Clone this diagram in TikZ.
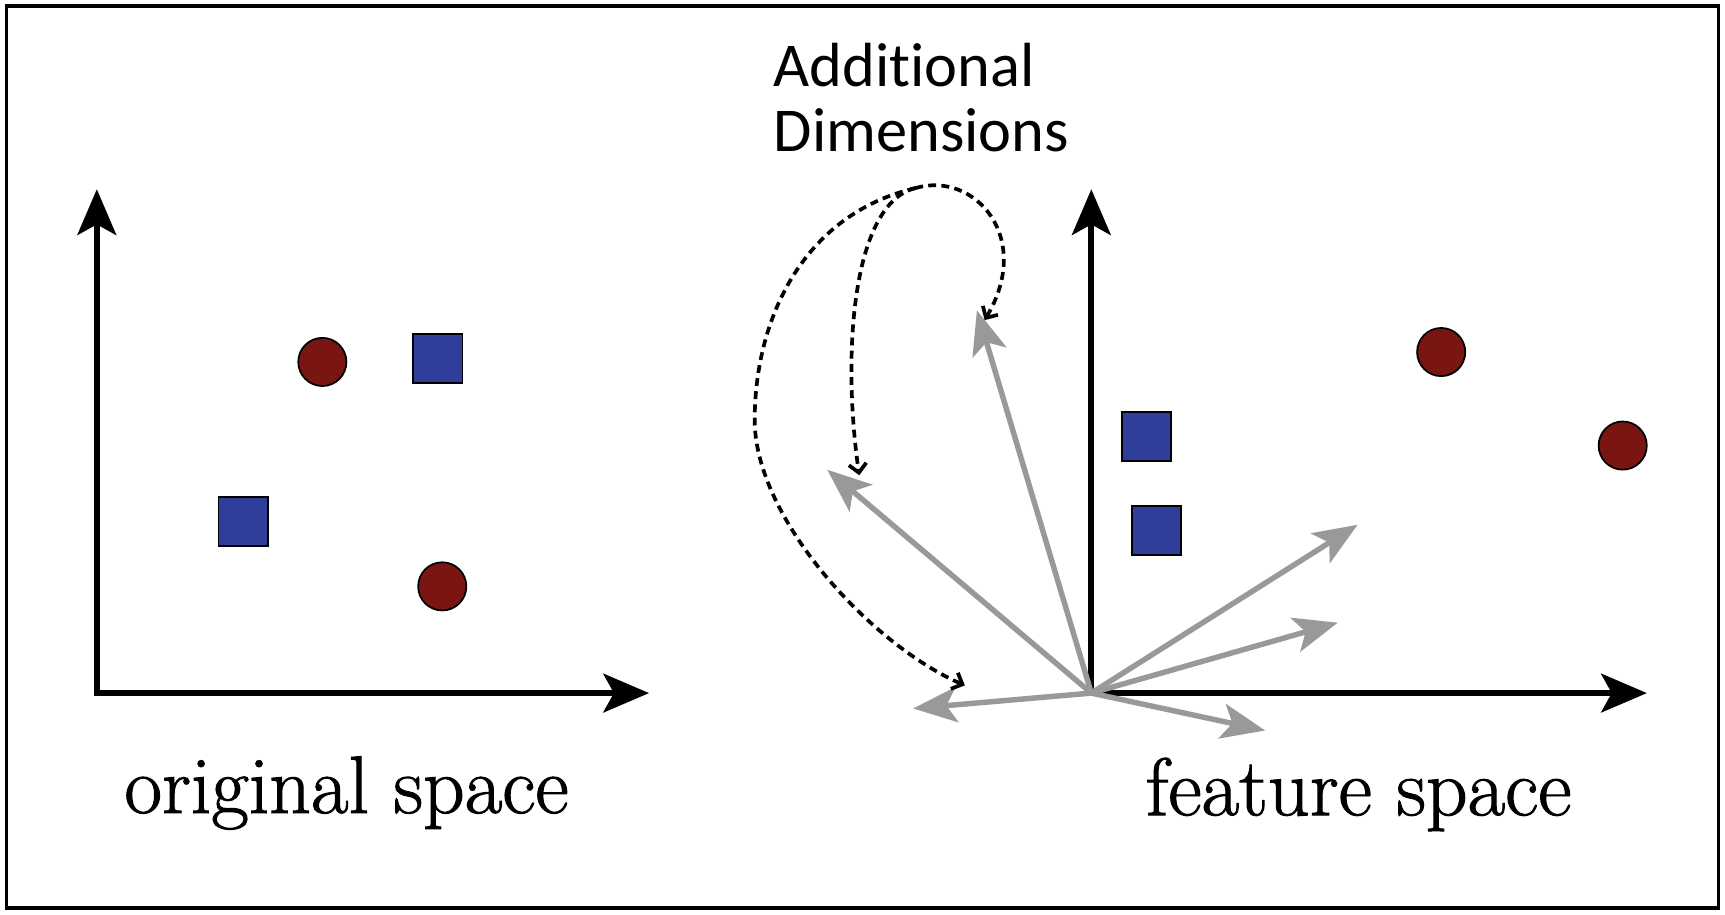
\documentclass[tikz,border=0pt]{standalone}
\usepackage{fontspec}
\newfontfamily\carlito[Ligatures=NoCommon]{Carlito}
\newfontfamily\capfont[FakeBold=1.2]{Latin Modern Roman}
\usetikzlibrary{arrows.meta}
\definecolor{dotred}{RGB}{122,22,18}
\definecolor{dotblue}{RGB}{46,62,154}
\definecolor{vecgray}{RGB}{153,153,153}
\begin{document}
\begin{tikzpicture}[x=0.022cm,y=-0.022cm,
 axis/.style={line width=3.4pt, black, line join=miter, {Stealth[length=26pt,width=22pt,inset=6pt]}-{Stealth[length=26pt,width=22pt,inset=6pt]}},
 vec/.style={line width=3.1pt, vecgray, -{Stealth[length=25pt,width=20pt,inset=6pt]}},
 dotc/.style={circle, draw=black, line width=1pt, fill=dotred, minimum size=27.4pt, inner sep=0pt},
 dots/.style={rectangle, draw=black, line width=1pt, fill=dotblue, minimum size=28pt, inner sep=0pt},
 hint/.style={line width=2.1pt, dash pattern=on 4.5pt off 3pt, -{Straight Barb[length=5pt,width=10pt]}},
 capt/.style={font=\capfont\fontsize{46.5}{52}\selectfont, anchor=base, inner sep=0pt},
 lab/.style={font=\carlito\fontsize{35.5}{37}\selectfont, anchor=base west, inner sep=0pt}]
\useasboundingbox (0,0) rectangle (1568,831.7);
\draw[line width=1.9pt] (6,5.5) rectangle (1562,825.5);

% left panel
\coordinate (lo) at (88,630);
\coordinate (ly) at (88,172);
\coordinate (lx) at (590,630);
\draw[axis] (ly) -- (lo) -- (lx);
\node[dotc] (c1) at (293,329) {};
\node[dotc] (c2) at (402,533) {};
\node[dots] (s1) at (398,326) {};
\node[dots] (s2) at (221,474) {};
\node[capt] (origcap) at (315,739) {original space};

% right panel
\coordinate (ro) at (992,630);
\coordinate (ry) at (992,172);
\coordinate (rx) at (1497,630);
\draw[axis] (ry) -- (ro) -- (rx);
\node[dotc] (c3) at (1310,320) {};
\node[dotc] (c4) at (1475,405) {};
\node[dots] (s3) at (1042,397) {};
\node[dots] (s4) at (1051,482) {};
\node[capt] (featcap) at (1235,741) {feature space};

% gray vectors
\coordinate (v1) at (888,282);
\coordinate (v2) at (752,427);
\coordinate (v3) at (1234,477);
\coordinate (v4) at (1216,566);
\coordinate (v5) at (1150,664);
\coordinate (v6) at (830,644);
\foreach \v in {v1,v2,v3,v4,v5,v6} \draw[vec] (ro) -- (\v);

% label
\node[lab] (addA) at (703,79) {Additional};
\node[lab] (addB) at (703,138) {Dimensions};
\coordinate (hs) at (832,171);
\coordinate (ha) at (895,291);
\coordinate (hb) at (781,432);
\coordinate (hc) at (877,623);
\coordinate (hm) at (686,382);
\draw[hint] (hs) .. controls (885,155) and (940,215) .. (ha);
\draw[hint] (hs) .. controls (775,185) and (765,320) .. (hb);
\draw[hint] (hs) .. controls (730,195) and (686,290) .. (hm) .. controls (686,470) and (790,585) .. (hc);
\end{tikzpicture}
\end{document}
